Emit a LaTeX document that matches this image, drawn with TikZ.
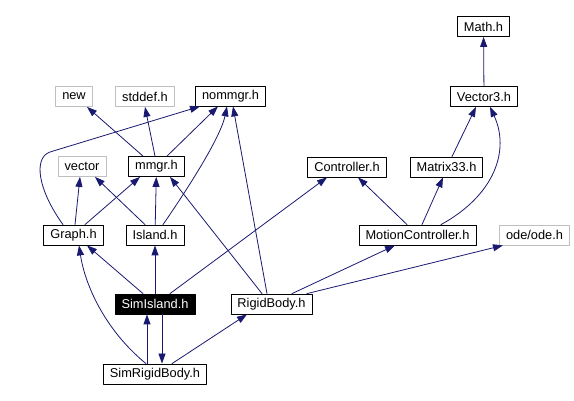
\documentclass[tikz,border=0pt]{standalone}
\usepackage{fontspec}
\setmainfont{Liberation Sans}
\usetikzlibrary{arrows.meta}
\definecolor{edgenavy}{RGB}{25,25,112}
\definecolor{extgray}{RGB}{191,191,191}

\begin{document}
\begin{tikzpicture}[x=1pt,y=-1pt,line cap=round,line join=round,
		hfile/.style={draw=black,line width=0.8pt,inner xsep=6.5pt,inner ysep=0pt,minimum height=20pt,font=\fontsize{12.8}{14}\selectfont},
		sysfile/.style={hfile,draw=extgray},
		curfile/.style={hfile,fill=black,text=white},
		dep/.style={draw=edgenavy,line width=0.8pt,-{Triangle[length=10pt,width=7pt]}}]
		\useasboundingbox (0,0) rectangle (574,401);
		% headers
		\node[hfile] (math) at (483.5,26.5) {Math.h};
		\node[hfile] (vec3) at (484,96.5) {Vector3.h};
		\node[sysfile] (new) at (74,96.5) {new};
		\node[sysfile] (stddef) at (145,96.5) {stddef.h};
		\node[hfile] (nommgr) at (230.5,96) {nommgr.h};
		\node[sysfile] (vector) at (82,166.5) {vector};
		\node[hfile] (mmgr) at (156.5,166.5) {mmgr.h};
		\node[hfile] (ctrl) at (347,167) {Controller.h};
		\node[hfile] (matrix) at (446.5,167) {Matrix33.h};
		\node[hfile] (graph) at (73.5,235) {Graph.h};
		\node[hfile] (island) at (155,235) {Island.h};
		\node[hfile] (motion) at (417.5,235) {MotionController.h};
		\node[sysfile] (ode) at (534.5,235) {ode/ode.h};
		\node[curfile] (simisl) at (155,304) {SimIsland.h};
		\node[hfile] (rigid) at (271.5,304) {RigidBody.h};
		\node[hfile] (simrb) at (155,374) {SimRigidBody.h};
		% includes
		\draw[dep] (vec3) -- (math);
		\draw[dep] ([xshift=5.5pt]matrix.north) -- ([xshift=-8pt]vec3.south);
		\draw[dep] ([xshift=23.5pt]motion.north) .. controls (495,195) and (510,150) .. ([xshift=6pt]vec3.south);
		\draw[dep] ([xshift=-10.5pt]motion.north) -- ([xshift=11pt]ctrl.south);
		\draw[dep] ([xshift=4.5pt]motion.north) -- ([xshift=-3.5pt]matrix.south);
		\draw[dep] ([xshift=20.5pt]rigid.north) -- ([xshift=-22.5pt]motion.south);
		\draw[dep] ([xshift=35.5pt]rigid.north) -- ([xshift=-31.5pt]ode.south);
		\draw[dep] ([xshift=-9.5pt]rigid.north) -- ([xshift=13.5pt]mmgr.south);
		\draw[dep] ([xshift=-4.5pt]rigid.north) -- ([xshift=2.5pt]nommgr.south);
		\draw[dep] ([xshift=15pt]simisl.north) -- ([xshift=-20pt]ctrl.south);
		\draw[dep] ([xshift=-12pt]simisl.north) -- ([xshift=13.5pt]graph.south);
		\draw[dep] (simisl) -- (island);
		\draw[dep] ([xshift=7pt]simisl.south) -- ([xshift=7pt]simrb.north);
		\draw[dep] ([xshift=-8pt]simrb.north) -- ([xshift=-8pt]simisl.south);
		\draw[dep] ([xshift=-9pt]simrb.north) .. controls (105,330) and (85,285) .. ([xshift=5.5pt]graph.south);
		\draw[dep] ([xshift=17pt]simrb.north) -- ([xshift=-24.5pt]rigid.south);
		\draw[dep] ([xshift=1.5pt]graph.north) -- ([xshift=-2pt]vector.south);
		\draw[dep] ([xshift=11.5pt]graph.north) -- ([xshift=-16.5pt]mmgr.south);
		\draw[dep] ([xshift=-10.5pt]graph.north) .. controls (38,190) and (33,158) .. (50,152) -- ([xshift=-30.5pt]nommgr.south);
		\draw[dep] ([xshift=-10pt]island.north) -- ([xshift=13pt]vector.south);
		\draw[dep] (island) -- (mmgr);
		\draw[dep] ([xshift=8pt]island.north) .. controls (180,200) and (220,140) .. ([xshift=-3.5pt]nommgr.south);
		\draw[dep] ([xshift=-13.5pt]mmgr.north) -- ([xshift=13pt]new.south);
		\draw[dep] ([xshift=-1.5pt]mmgr.north) -- (stddef.south);
		\draw[dep] ([xshift=10.5pt]mmgr.north) -- ([xshift=-12.5pt]nommgr.south);
	\end{tikzpicture}
\end{document}
